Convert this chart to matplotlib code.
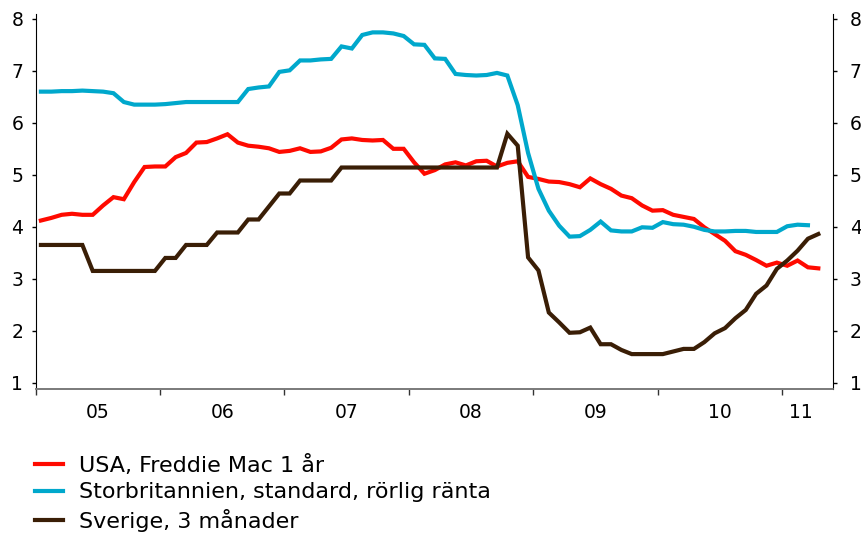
import numpy as np
import matplotlib
matplotlib.use("Agg")
import matplotlib.pyplot as plt

# Monthly mortgage rates (%), Jan 2005 onwards
usa_freddie_1y = [
    4.12, 4.17, 4.23, 4.25, 4.23, 4.23, 4.41, 4.57, 4.53, 4.86, 5.15, 5.16,
    5.16, 5.34, 5.42, 5.62, 5.63, 5.70, 5.78, 5.62, 5.56, 5.54, 5.51, 5.44,
    5.46, 5.51, 5.44, 5.45, 5.52, 5.68, 5.70, 5.67, 5.66, 5.67, 5.50, 5.50,
    5.24, 5.02, 5.09, 5.20, 5.24, 5.18, 5.26, 5.27, 5.16, 5.23, 5.26, 4.96,
    4.92, 4.87, 4.86, 4.82, 4.76, 4.93, 4.82, 4.73, 4.60, 4.55, 4.41, 4.31,
    4.32, 4.23, 4.19, 4.15, 3.99, 3.86, 3.73, 3.53, 3.46, 3.36, 3.25, 3.31,
    3.25, 3.35, 3.22, 3.20,
]
uk_standard_variable = [
    6.60, 6.60, 6.61, 6.61, 6.62, 6.61, 6.60, 6.57, 6.40, 6.35, 6.35, 6.35,
    6.36, 6.38, 6.40, 6.40, 6.40, 6.40, 6.40, 6.40, 6.65, 6.68, 6.70, 6.98,
    7.01, 7.20, 7.20, 7.22, 7.23, 7.47, 7.43, 7.69, 7.74, 7.74, 7.72, 7.67,
    7.51, 7.50, 7.24, 7.23, 6.94, 6.92, 6.91, 6.92, 6.96, 6.91, 6.34, 5.42,
    4.73, 4.31, 4.02, 3.81, 3.82, 3.94, 4.10, 3.93, 3.91, 3.91, 3.99, 3.98,
    4.09, 4.05, 4.04, 4.00, 3.94, 3.91, 3.91, 3.92, 3.92, 3.90, 3.90, 3.90,
    4.01, 4.04, 4.03,
]
sweden_3m = [
    3.65, 3.65, 3.65, 3.65, 3.65, 3.15, 3.15, 3.15, 3.15, 3.15, 3.15, 3.15,
    3.40, 3.40, 3.65, 3.65, 3.65, 3.89, 3.89, 3.89, 4.14, 4.14, 4.39, 4.64,
    4.64, 4.89, 4.89, 4.89, 4.89, 5.14, 5.14, 5.14, 5.14, 5.14, 5.14, 5.14,
    5.14, 5.14, 5.14, 5.14, 5.14, 5.14, 5.14, 5.14, 5.14, 5.79, 5.56, 3.41,
    3.16, 2.35, 2.16, 1.96, 1.97, 2.06, 1.74, 1.74, 1.63, 1.55, 1.55, 1.55,
    1.55, 1.60, 1.65, 1.65, 1.78, 1.95, 2.05, 2.24, 2.40, 2.71, 2.87, 3.19,
    3.35, 3.54, 3.77, 3.86,
]

series_labels = [
    "USA, Freddie Mac 1 år",
    "Storbritannien, standard, rörlig ränta",
    "Sverige, 3 månader",
]
series_colors = ["#FF0A00", "#00A8CC", "#3A1E06"]
year_labels = ["05", "06", "07", "08", "09", "10", "11"]
first_year = 2005


def month_positions(values):
    return first_year + (np.arange(len(values)) + 0.5) / 12.0


plt.rcParams["font.family"] = ["DejaVu Sans"]

fig = plt.figure(figsize=(8.61, 5.34), dpi=100)
ax = fig.add_axes([0.0415, 0.271, 0.9263, 0.703])

lines = []
for vals, col, lab in zip([usa_freddie_1y, uk_standard_variable, sweden_3m],
                          series_colors, series_labels):
    ln, = ax.plot(month_positions(vals), vals, color=col, lw=3.0,
                  solid_joinstyle="miter", label=lab)
    lines.append(ln)

ax.set_xlim(first_year, first_year + 6.412)
ax.set_ylim(0.873, 8.096)

yt = np.arange(1, 9)
ax.set_yticks(yt)
ax.set_yticklabels([str(v) for v in yt])

# Year boundaries as major ticks, year labels centred on minor ticks
ax.set_xticks(np.arange(first_year, first_year + 7))
ax.set_xticklabels([])
label_pos = [first_year + k + 0.5 for k in range(6)] + [first_year + 6.15]
ax.set_xticks(label_pos, minor=True)
ax.set_xticklabels(year_labels, minor=True)
ax.tick_params(axis="x", which="major", direction="out", length=4,
               width=1, color="#333333")
ax.tick_params(axis="x", which="minor", length=0, pad=10, labelsize=13.5)
ax.tick_params(axis="y", direction="out", length=3, width=1, pad=6,
               labelsize=13.5)

ax2 = ax.twinx()
ax2.set_ylim(ax.get_ylim())
ax2.set_yticks(yt)
ax2.set_yticklabels([str(v) for v in yt])
ax2.tick_params(axis="y", direction="out", length=3, width=1, pad=9,
                labelsize=13.5)

for a in (ax, ax2):
    a.spines["top"].set_visible(False)
    a.spines["left"].set_color("black")
    a.spines["right"].set_color("black")
    a.spines["bottom"].set_color("#7a7a7a")
    a.spines["bottom"].set_linewidth(1.2)
ax2.spines["left"].set_visible(False)
ax.spines["right"].set_visible(False)

fig.legend(handles=lines, loc="upper left", bbox_to_anchor=(0.0407, 0.148),
           frameon=False, fontsize=16, handlelength=1.26,
           handletextpad=0.72, labelspacing=0.29, borderaxespad=0,
           borderpad=0)

fig.savefig("out.png", dpi=100)
